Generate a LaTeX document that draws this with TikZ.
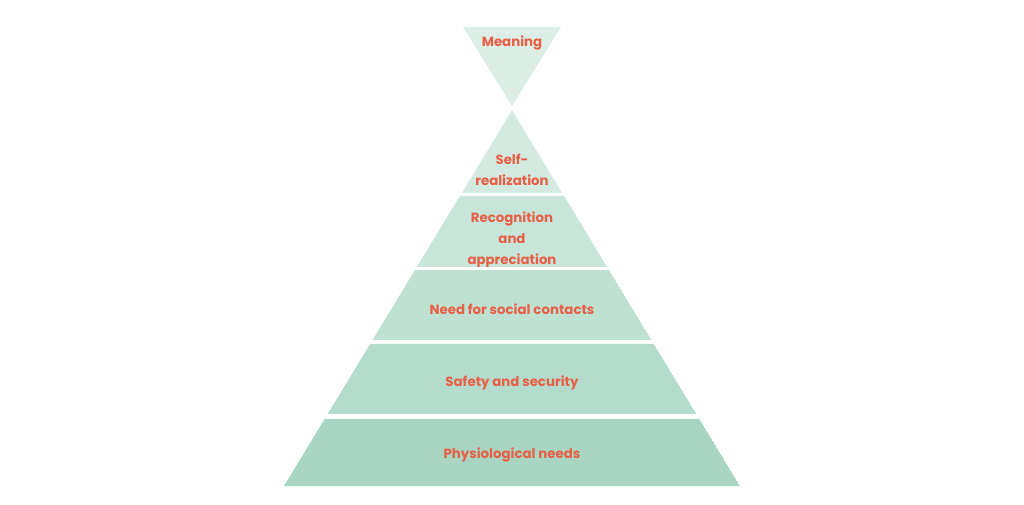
\documentclass[tikz,border=0pt]{standalone}
\usepackage{fontspec}
\setmainfont{Poppins}
\usetikzlibrary{positioning}
\definecolor{coral}{RGB}{233, 95, 70}
\definecolor{mintA}{RGB}{221, 238, 231}
\definecolor{mintB}{RGB}{211, 234, 224}
\definecolor{mintC}{RGB}{200, 229, 217}
\definecolor{mintD}{RGB}{190, 225, 210}
\definecolor{mintE}{RGB}{180, 220, 204}
\definecolor{mintF}{RGB}{168, 214, 195}
\tikzset{label text/.style={text=coral, font=\bfseries\fontsize{10}{15.75}\selectfont, align=center}}

\begin{document}
\begin{tikzpicture}[x=0.75pt, y=-0.75pt]
            % Frame
            \useasboundingbox                                     (0, 0) rectangle (1024, 505);
            % Meaning (inverted)
            \fill[mintA]                                          (463, 27) -- (561, 27) -- (512, 106) -- cycle;
            \node[label text] (meaning) at (512, 43) {Meaning};
            % Top triangle
            \fill[mintB]                                          (512, 110) -- (562, 193) -- (462, 193) -- cycle;
            \node[label text] (self) at (512, 170) {Self-\\realization};
            % Layers
            \foreach \ytop/\ybot/\col/\ty/\name/\txt in {
                    196/267/mintC/240/recog/{Recognition\\and\\appreciation},
                    270/340/mintD/309/social/{Need for social contacts},
                    344/414/mintE/383/safety/{Safety and security},
                    419/486/mintF/455/physio/{Physiological needs}} {
                \pgfmathsetmacro{\wt}{0.6064*(\ytop-110)}
                \pgfmathsetmacro{\wb}{0.6064*(\ybot-110)}
                \begin{scope}
                    \clip                                         (512-\wt, \ytop) -- (512+\wt, \ytop) -- (512+\wb, \ybot) -- (512-\wb, \ybot) -- cycle;
                    \fill[\col]                                   (512-\wt, \ytop) -- (512+\wt, \ytop) -- (512+\wb, \ybot) -- (512-\wb, \ybot) -- cycle;
                    \node[label text] (\name) at (512, \ty) {\txt};
                \end{scope}
            }
        \end{tikzpicture}
\end{document}
